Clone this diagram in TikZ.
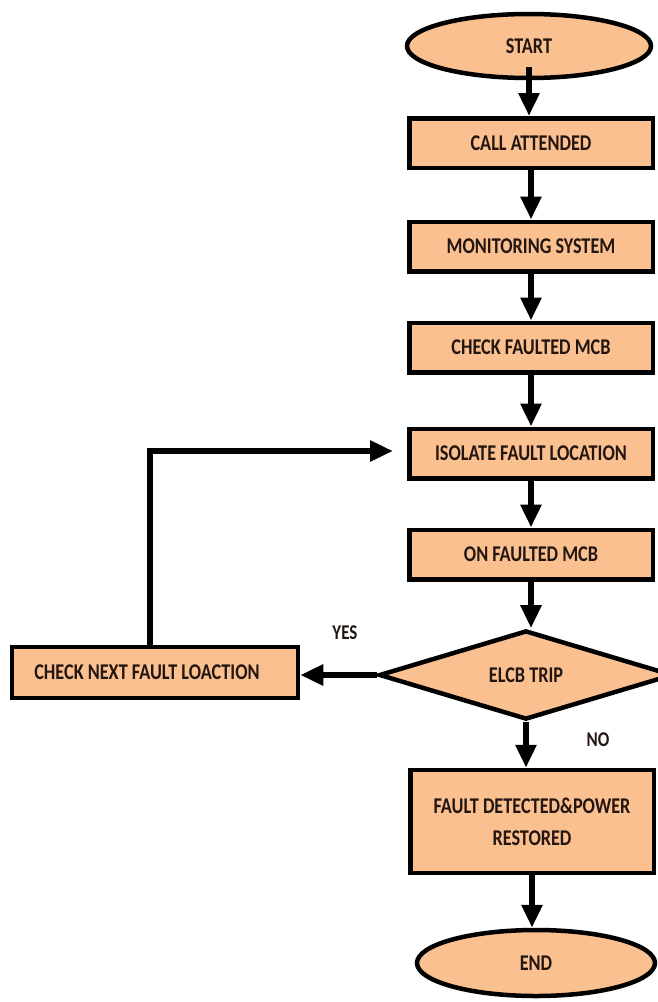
\documentclass[tikz,border=0pt]{standalone}
\usepackage{fontspec}
\newfontfamily\flowfont{Carlito}[FakeStretch=0.81]
\usetikzlibrary{shapes.geometric,arrows.meta}

\definecolor{boxfill}{RGB}{250,192,144}
\definecolor{ink}{RGB}{35,22,16}

\tikzset{
  base/.style={draw=black, line width=4.5pt, fill=boxfill, text=ink,
    font=\flowfont\bfseries\fontsize{22.5}{32}\selectfont, inner sep=0pt, align=center},
  procbox/.style={base, rectangle, minimum width=243.5pt, minimum height=49.5pt},
  terminal/.style={base, ellipse},
  decision/.style={base, diamond, minimum width=294pt, minimum height=82pt},
  arr/.style={line width=6pt, draw=black, -{Triangle[length=23pt,width=20pt]}},
  lbl/.style={font=\flowfont\bfseries\fontsize{21}{25}\selectfont, text=ink, inner sep=0pt}
}

\begin{document}
\begin{tikzpicture}[x=1pt,y=-1pt]
  \clip (0,0) rectangle (658,1002);
  \fill[white] (0,0) rectangle (658,1002);

  % main column
  \node[terminal, minimum width=244pt, minimum height=64pt] (start) at (529,46) {START};
  \node[procbox] (call) at (531,143) {CALL ATTENDED};
  \node[procbox] (mon) at (531,246.5) {MONITORING SYSTEM};
  \node[procbox] (chk) at (531,347.5) {CHECK FAULTED MCB};
  \node[procbox] (iso) at (531,453.5) {ISOLATE FAULT LOCATION};
  \node[procbox] (on) at (531,554.5) {ON FAULTED MCB};
  \node[decision] (trip) at (526,675) {ELCB TRIP};
  \node[procbox, minimum height=103pt] (done) at (532,821.5) {FAULT DETECTED\&POWER\\RESTORED};
  \node[terminal, minimum width=238pt, minimum height=66pt] (end) at (536,963) {END};

  % side branch (label sits a little left of the box centre)
  \node[procbox, minimum width=286pt, minimum height=51pt] (next) at (155,672.5)
    {CHECK NEXT FAULT LOACTION\kern16pt};
  \coordinate (bend) at (150,451);

  % branch labels
  \node[lbl] (yes) at (345,633) {YES};
  \node[lbl] (no) at (598,740) {NO};

  % connectors
  \draw[arr] ([yshift=13pt]start.south) -- (start.south |- call.north);
  \draw[arr] (call.south) -- (mon.north);
  \draw[arr] (mon.south) -- (chk.north);
  \draw[arr] (chk.south) -- (iso.north);
  \draw[arr] (iso.south) -- (on.north);
  \draw[arr] (on.south) -- (on.south |- trip.north);
  \draw[arr] (trip.south) -- (trip.south |- done.north);
  \draw[arr] (done.south) -- (done.south |- end.north);
  \draw[arr] (trip.west) -- (next.east |- trip.west);
  \draw[arr] (next.north -| bend) -- (bend) -- ([xshift=-14pt]iso.west |- bend);
\end{tikzpicture}
\end{document}
